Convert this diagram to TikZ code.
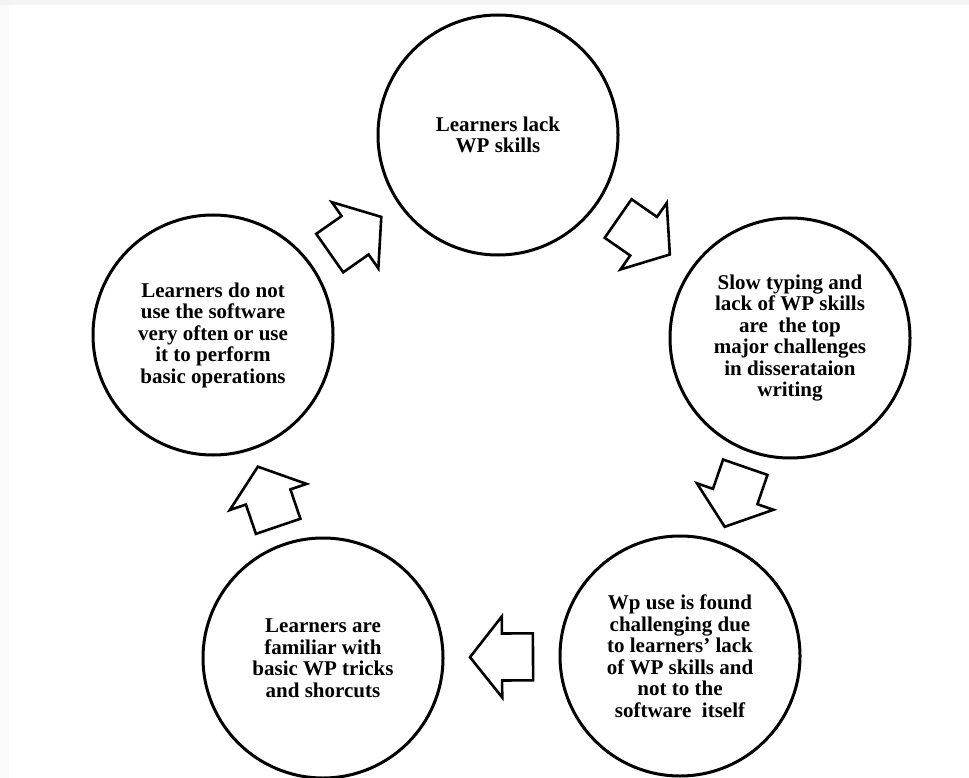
\documentclass[tikz,border=0pt]{standalone}
\usepackage{fontspec}
\setmainfont{Liberation Serif}
\begin{document}
\begin{tikzpicture}[x=1pt,y=-1pt,
  stage/.style={circle, draw=black, line width=3pt, minimum size=240pt,
    inner sep=0pt, align=center,
    font=\bfseries\fontsize{21}{21.5}\selectfont},
  flowline/.style={draw=black, fill=white, line width=2.6pt, line join=miter},
  % hollow block arrow pointing along the local x axis, centred on the origin
  flow/.pic={
    \path[flowline] (-31.5,-23.5) -- (-0.5,-23.5) -- (-0.5,-40.5) -- (31.5,0)
      -- (-0.5,40.5) -- (-0.5,23.5) -- (-31.5,23.5) -- cycle;
  }]
\useasboundingbox (0,0) rectangle (969,778);
\fill[white] (0,0) rectangle (969,778);
% thin frame strips along the top and left edges
\fill[gray!9] (0,0) rectangle (969,5);
\fill[gray!4] (0,5) rectangle (9,778);

% the five stages of the cycle
\node[stage] (lack) at (498,135) {Learners lack\\WP skills};
\node[stage] (slow) at (790,338)
  {Slow typing and\\lack of WP skills\\are\ \ the top\\major challenges\\in disserataion\\writing};
\node[stage] (found) at (680,656)
  {Wp use is found\\challenging due\\to learners’ lack\\of WP skills and\\not to the\\software\ \ itself};
\node[stage] (famil) at (323,658)
  {Learners are\\familiar with\\basic WP tricks\\and shorcuts};
\node[stage] (seldom) at (213,335)
  {Learners do not\\use the software\\very often or use\\it to perform\\basic operations};

% block arrows between consecutive stages
\path (seldom) -- pic[sloped, allow upside down] {flow} (lack);
\path (lack) -- pic[sloped, allow upside down] {flow} (slow);
\path (slow) -- pic[sloped, allow upside down] {flow} (found);
\path (found) -- pic[sloped, allow upside down] {flow} (famil);
\path (famil) -- pic[sloped, allow upside down] {flow} (seldom);
\end{tikzpicture}
\end{document}
